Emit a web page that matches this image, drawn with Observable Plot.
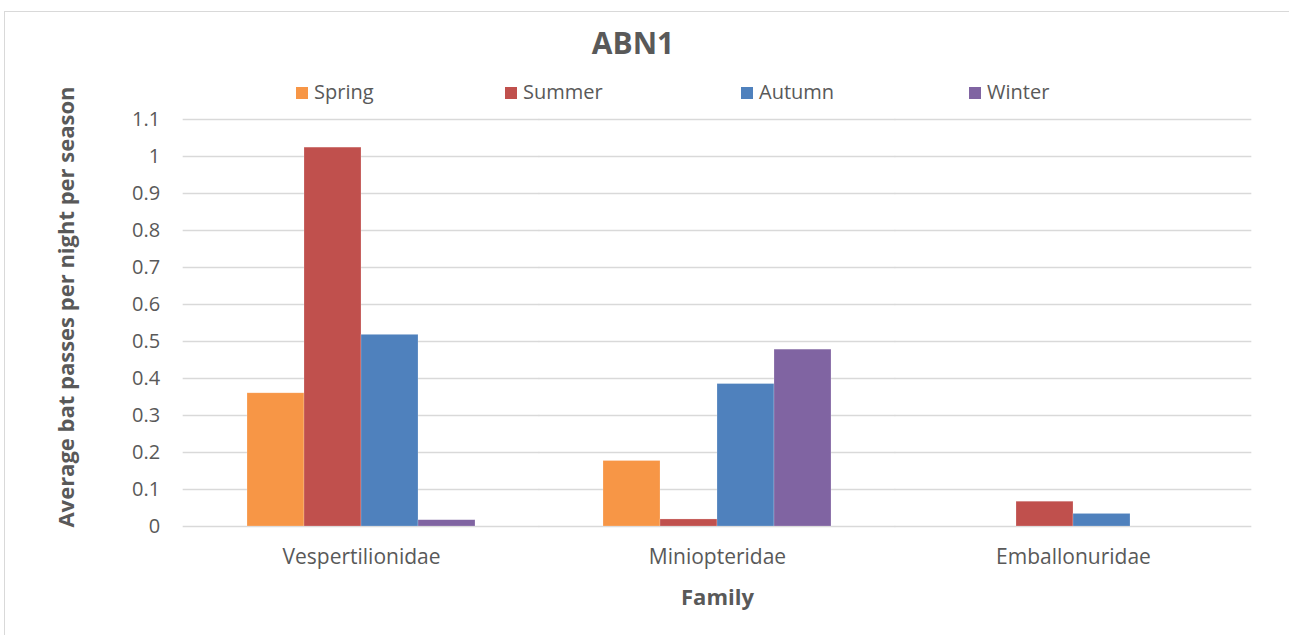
<!DOCTYPE html>
<html>
<head>
<meta charset="utf-8">
<script src="https://cdn.jsdelivr.net/npm/d3@7"></script>
<script src="https://cdn.jsdelivr.net/npm/@observablehq/plot@0.6"></script>
<style>
  html, body { margin: 0; padding: 0; background: #fff; }
  #wrap { position: relative; width: 1289px; height: 635px; overflow: hidden; font-family: "Open Sans", sans-serif; color: #595959; }
  #border { position: absolute; left: 4px; top: 11px; right: -2px; bottom: -2px; border-top: 1.5px solid #d9d9d9; border-left: 1.5px solid #d9d9d9; }
  #header { position: relative; height: 110px; }
  #title { position: absolute; left: 0; width: 1266px; top: 22px; text-align: center; font-size: 30px; font-weight: bold; color: #595959; }
  .leg { position: absolute; top: 78px; font-size: 20px; color: #595959; white-space: nowrap; }
  .leg span.sw { display: inline-block; width: 12px; height: 12px; margin-right: 6px; vertical-align: 0px; }
  #chart { position: relative; }
</style>
</head>
<body>
<div id="wrap">
  <div id="border"></div>
  <div id="header">
    <div id="title"></div>
    <div id="legend"></div>
  </div>
  <div id="chart"></div>
</div>
<script>
// ---- data ----
const titleText = "ABN1";
const families = ["Vespertilionidae", "Miniopteridae", "Emballonuridae"];
const seasons = ["Spring", "Summer", "Autumn", "Winter"];
const seasonColors = ["#F79646", "#C0504D", "#4F81BD", "#8064A2"];
const spring = [0.36, 0.177, 0];
const summer = [1.024, 0.019, 0.067];
const autumn = [0.518, 0.385, 0.034];
const winter = [0.017, 0.478, 0];
const yTicks = [0, 0.1, 0.2, 0.3, 0.4, 0.5, 0.6, 0.7, 0.8, 0.9, 1, 1.1];
const yTickLabels = ["0", "0.1", "0.2", "0.3", "0.4", "0.5", "0.6", "0.7", "0.8", "0.9", "1", "1.1"];
const yLabel = "Average bat passes per night per season";
const xLabel = "Family";
const legendX = [296, 505, 741, 969];

// ---- table ----
const seriesValues = [spring, summer, autumn, winter];
const data = [];
families.forEach((f, i) => {
  seasons.forEach((s, j) => {
    data.push({family: f, season: s, value: seriesValues[j][i]});
  });
});

// ---- title & legend ----
document.getElementById("title").textContent = titleText;
const legend = document.getElementById("legend");
seasons.forEach((s, j) => {
  const item = document.createElement("div");
  item.className = "leg";
  item.style.left = legendX[j] + "px";
  const sw = document.createElement("span");
  sw.className = "sw";
  sw.style.background = seasonColors[j];
  item.appendChild(sw);
  item.appendChild(document.createTextNode(s));
  legend.appendChild(item);
});

// ---- chart ----
const marginLeft = 182, marginRight = 37;
const plotW = 1289 - marginLeft - marginRight;
const pInner = 0.355;
const step = plotW / families.length;
const halfGap = step * pInner / 2;

const chart = Plot.plot({
  width: 1289,
  height: 525,
  marginTop: 9,
  marginBottom: 109,
  marginLeft,
  marginRight,
  style: {fontFamily: "'Open Sans', sans-serif", fontSize: "20px", color: "#595959", background: "transparent", overflow: "visible"},
  fx: {domain: families, paddingInner: pInner, paddingOuter: pInner / 2, label: null},
  x: {domain: seasons, padding: 0, axis: null},
  y: {domain: [0, 1.1], axis: null},
  color: {domain: seasons, range: seasonColors},
  marks: [
    Plot.ruleY(yTicks, {stroke: "#d9d9d9", strokeWidth: 1.5, insetLeft: -halfGap, insetRight: -halfGap}),
    Plot.barY(data, {fx: "family", x: "season", y: "value", fill: "season", stroke: "#ffffff", strokeOpacity: 0.35, strokeWidth: 0.6}),
    Plot.axisY({ticks: yTicks, tickSize: 0, tickPadding: 23 + halfGap, label: null, tickFormat: (d) => yTickLabels[yTicks.indexOf(d)], fill: "#595959"}),
    Plot.axisFx({anchor: "bottom", tickSize: 0, tickPadding: 23, label: null, fontSize: "21px", fill: "#595959"}),
    Plot.axisFx({anchor: "bottom", ticks: [], tickSize: 0, label: xLabel, labelAnchor: "center", labelOffset: 78, fontWeight: "bold", fontSize: "22px", fill: "#595959"}),
    Plot.text([yLabel], {
      fx: () => families[0],
      text: d => d,
      frameAnchor: "left",
      textAnchor: "middle",
      rotate: -90,
      dx: 66 - (marginLeft + halfGap),
      dy: -16,
      fontWeight: "bold",
      fontSize: 22,
      fill: "#595959"
    })
  ]
});
document.getElementById("chart").appendChild(chart);
</script>
</body>
</html>
